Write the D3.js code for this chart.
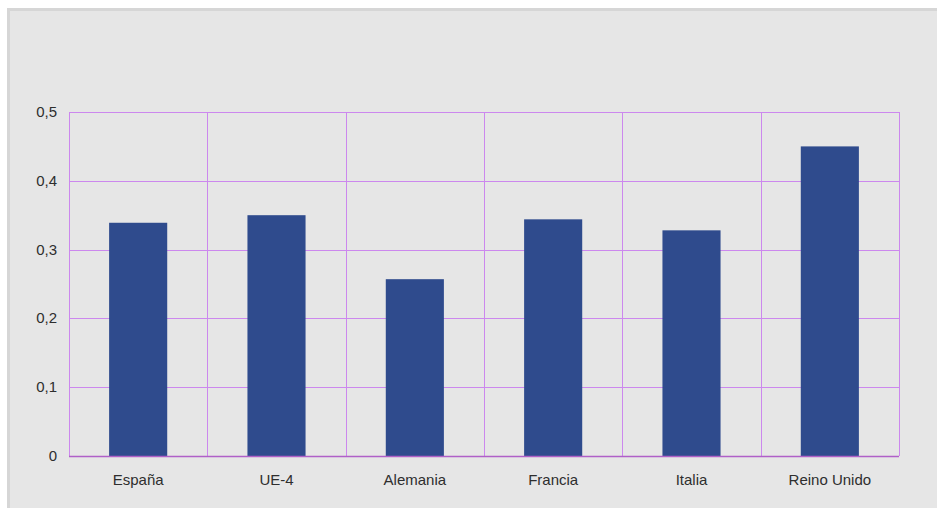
<!DOCTYPE html>
<html>
<head>
<meta charset="utf-8">
<script src="https://cdn.jsdelivr.net/npm/d3@7"></script>
<style>
html,body{margin:0;padding:0;background:#ffffff;}
svg{display:block;}
text{font-family:"Liberation Sans",Arial,Helvetica,sans-serif;}
</style>
</head>
<body>
<script>
const categories = ["España", "UE-4", "Alemania", "Francia", "Italia", "Reino Unido"];
const values = [0.339, 0.350, 0.257, 0.344, 0.328, 0.450];
const yTicks = [0, 0.1, 0.2, 0.3, 0.4, 0.5];
const yTickLabels = ["0", "0,1", "0,2", "0,3", "0,4", "0,5"];

(function () {
const W = 937, H = 508;
const svg = d3.select("body").append("svg").attr("width", W).attr("height", H);

// outer frame
svg.append("rect").attr("x", 7).attr("y", 8).attr("width", W - 7).attr("height", H - 8).attr("fill", "#d6d6d6");
svg.append("rect").attr("x", 10).attr("y", 11).attr("width", W - 10).attr("height", H - 11).attr("fill", "#e6e6e6");

const pLeft = 69, pRight = 899, pTop = 112, pBottom = 456;
const x = d3.scaleBand().domain(categories).range([pLeft, pRight]).paddingInner(0).paddingOuter(0);
const y = d3.scaleLinear().domain([0, 0.5]).range([pBottom, pTop]);

const gridColor = "#cc88ee";
// horizontal gridlines
svg.append("g").selectAll("line").data(yTicks).join("line")
  .attr("x1", pLeft).attr("x2", pRight)
  .attr("y1", d => Math.round(y(d)) + 0.5).attr("y2", d => Math.round(y(d)) + 0.5)
  .attr("stroke", gridColor).attr("stroke-width", 1);
// vertical gridlines at category boundaries
const bounds = categories.map(c => x(c)).concat([pRight]);
svg.append("g").selectAll("line").data(bounds).join("line")
  .attr("x1", d => Math.round(d) + 0.5).attr("x2", d => Math.round(d) + 0.5)
  .attr("y1", pTop).attr("y2", pBottom)
  .attr("stroke", gridColor).attr("stroke-width", 1);

// bars
const bw = x.bandwidth() * 0.42;
svg.append("g").selectAll("rect").data(values).join("rect")
  .attr("x", (d, i) => x(categories[i]) + x.bandwidth() / 2 - bw / 2)
  .attr("width", bw)
  .attr("y", d => y(d))
  .attr("height", d => y(0) - y(d))
  .attr("fill", "#2f4b8d");

// baseline
svg.append("line").attr("x1", pLeft).attr("x2", pRight)
  .attr("y1", pBottom + 0.5).attr("y2", pBottom + 0.5)
  .attr("stroke", "#b060c8").attr("stroke-width", 1.5);

// y axis labels
svg.append("g").selectAll("text").data(yTicks).join("text")
  .attr("x", 57).attr("y", d => y(d) + 5)
  .attr("text-anchor", "end").attr("font-size", 15).attr("fill", "#2e2e2e")
  .text((d, i) => yTickLabels[i]);

// x axis labels
svg.append("g").selectAll("text").data(categories).join("text")
  .attr("x", d => x(d) + x.bandwidth() / 2).attr("y", 485)
  .attr("text-anchor", "middle").attr("font-size", 15).attr("fill", "#2e2e2e")
  .text(d => d);
})();
</script>
</body>
</html>
